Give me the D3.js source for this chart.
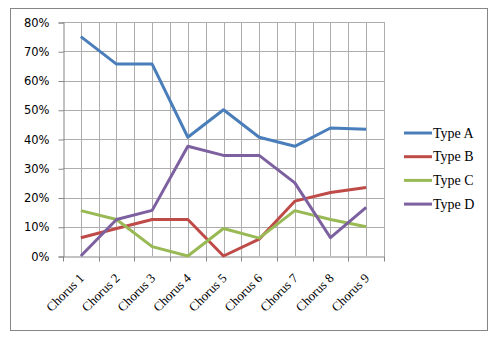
<!DOCTYPE html>
<html><head><meta charset="utf-8">
<script src="https://cdn.jsdelivr.net/npm/d3@7"></script>
<style>body{margin:0;background:#fff}</style>
</head><body>
<script>
const categories = ["Chorus 1","Chorus 2","Chorus 3","Chorus 4","Chorus 5","Chorus 6","Chorus 7","Chorus 8","Chorus 9"];
const seriesNames = ["Type A","Type B","Type C","Type D"];
const typeA = [0.75, 0.656, 0.656, 0.406, 0.50, 0.406, 0.375, 0.4375, 0.433];
const typeB = [0.0625, 0.094, 0.125, 0.125, 0.0, 0.0575, 0.1875, 0.217, 0.234];
const typeC = [0.155, 0.125, 0.032, 0.0, 0.094, 0.061, 0.155, 0.125, 0.10];
const typeD = [0.0, 0.125, 0.156, 0.375, 0.344, 0.344, 0.25, 0.0625, 0.166];
const yTicks = [0,0.1,0.2,0.3,0.4,0.5,0.6,0.7,0.8];
const colors = ["#4A7EBB","#BE4B48","#98B954","#7D60A0"];
const allSeries = [typeA, typeB, typeC, typeD];

(function(){
const W = 500, H = 343;
const svg = d3.select("body").append("svg").attr("width", W).attr("height", H);
svg.append("rect").attr("x",10.5).attr("y",8.5).attr("width",477).attr("height",322)
  .attr("fill","#fff").attr("stroke","#868686").attr("stroke-width",1);

const pL = 63, pR = 384, pT = 22, pB = 256;
const x = d3.scaleBand().domain(categories).range([pL, pR]).padding(0);
const y = d3.scaleLinear().domain([0, 0.8]).range([pB, pT]);
const xc = d => x(d) + x.bandwidth()/2;

const g = svg.append("g");
const vlines = [];
categories.forEach((c,i) => { vlines.push(x(c) + x.bandwidth()/2); vlines.push(x(c) + x.bandwidth()); });
g.selectAll(".vg").data(vlines).join("line")
  .attr("x1", d => Math.round(d)+0.5).attr("x2", d => Math.round(d)+0.5)
  .attr("y1", pT).attr("y2", pB).attr("stroke","#ADADAD").attr("stroke-width",1);
g.selectAll(".hg").data(yTicks.filter(t => t>0)).join("line")
  .attr("x1", pL).attr("x2", pR)
  .attr("y1", d => Math.round(y(d))+0.5).attr("y2", d => Math.round(y(d))+0.5)
  .attr("stroke","#ADADAD").attr("stroke-width",1);

const yAxis = d3.axisLeft(y).tickValues(yTicks).tickFormat(d3.format(".0%")).tickSize(5).tickPadding(9);
const ya = svg.append("g").attr("transform",`translate(${pL+0.5},0.5)`).call(yAxis);
ya.select(".domain").attr("stroke","#868686");
ya.selectAll(".tick line").attr("stroke","#868686");
ya.selectAll("text").attr("font-family","DejaVu Sans, Verdana, sans-serif").attr("font-size","11.5px").attr("fill","#000");

const xAxis = d3.axisBottom(x).tickSize(0).tickFormat("");
const xa = svg.append("g").attr("transform",`translate(0.5,${Math.round(pB)+0.5})`).call(xAxis);
xa.select(".domain").attr("stroke","#868686");
const bounds = [x(categories[0])].concat(categories.map(c => x(c)+x.bandwidth()));
xa.selectAll(".bt").data(bounds).join("line")
  .attr("x1", d => Math.round(d)).attr("x2", d => Math.round(d))
  .attr("y1",0).attr("y2",5).attr("stroke","#868686");
svg.append("g").selectAll("text").data(categories).join("text")
  .attr("transform", d => `translate(${xc(d)+4},${pB+23}) rotate(-45)`)
  .attr("text-anchor","end")
  .attr("font-family","Liberation Serif, Times New Roman, serif")
  .attr("font-size","13px").attr("fill","#000")
  .text(d => d);

const line = d3.line().x((d,i) => xc(categories[i])).y(d => y(d));
svg.append("g").selectAll("path").data(allSeries).join("path")
  .attr("d", d => line(d)).attr("fill","none")
  .attr("stroke",(d,i) => colors[i]).attr("stroke-width",3).attr("stroke-linejoin","round");

const lg = svg.append("g");
seriesNames.forEach((n,i) => {
  const ly = 133 + i*23.7;
  lg.append("line").attr("x1",404).attr("x2",432).attr("y1",ly).attr("y2",ly)
    .attr("stroke",colors[i]).attr("stroke-width",3);
  lg.append("text").attr("x",433).attr("y",ly+4.5)
    .attr("font-family","Liberation Serif, Times New Roman, serif")
    .attr("font-size","14px").attr("fill","#000").text(n);
});
})();
</script>
</body></html>
